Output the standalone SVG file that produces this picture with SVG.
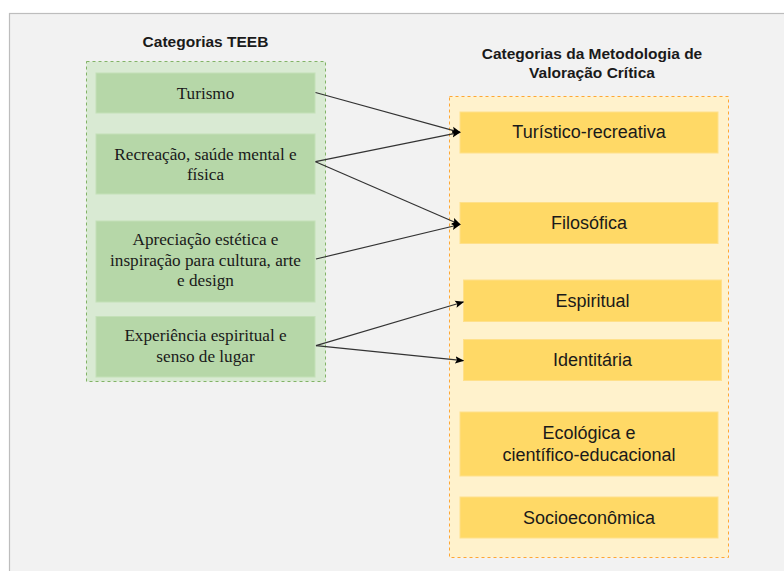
<svg xmlns="http://www.w3.org/2000/svg" width="784" height="571" viewBox="0 0 784 571">
<defs>
<style>
.title{font-family:"Liberation Sans",Arial,sans-serif;font-weight:bold;font-size:15.5px;fill:#1a1a1a;text-anchor:middle}
.gtxt{font-family:"Liberation Serif","Times New Roman",serif;font-size:17.2px;fill:#1a1a1a;text-anchor:middle}
.ytxt{font-family:"Liberation Sans",Arial,sans-serif;font-size:18px;fill:#1a1a1a;text-anchor:middle}
.gbox{fill:#b6d7a8;stroke:#c4e0b8;stroke-width:1}
.ybox{fill:#ffd966;stroke:#ffe08a;stroke-width:1}
.conn{stroke:#333333;stroke-width:1.2;fill:none;marker-end:url(#arr)}
</style>
<marker id="arr" viewBox="0 0 10 10" refX="9" refY="5" markerWidth="9" markerHeight="9" markerUnits="userSpaceOnUse" orient="auto">
<path d="M0,1 L10,5 L0,9 L2,5 Z" fill="#000"/>
</marker>
</defs>
<rect x="0" y="0" width="784" height="571" fill="#ffffff"/>
<rect x="9.5" y="13.5" width="780" height="565" fill="#f2f2f2" stroke="#bdbdbd" stroke-width="1.2"/>

<g id="teeb-container">
<rect x="86.5" y="61.5" width="239" height="320" fill="#d9ead3" stroke="#82b366" stroke-dasharray="3,3" stroke-width="1"/>
<text class="title" x="205.5" y="47">Categorias TEEB</text>
</g>

<g id="mvc-container">
<rect x="449.5" y="96.5" width="279" height="461" fill="#fff2cc" stroke="#ffa733" stroke-dasharray="3,3" stroke-width="1"/>
<text class="title" x="592" y="59">Categorias da Metodologia de</text>
<text class="title" x="592" y="77.5">Valoração Crítica</text>
</g>

<g id="turismo">
<rect class="gbox" x="96" y="73" width="219" height="40"/>
<text class="gtxt" x="205.5" y="99">Turismo</text>
</g>
<g id="recreacao">
<rect class="gbox" x="96" y="134" width="219" height="60"/>
<text class="gtxt" x="205.5" y="159.5">Recreação, saúde mental e</text>
<text class="gtxt" x="205.5" y="179.5">física</text>
</g>
<g id="apreciacao">
<rect class="gbox" x="96" y="221" width="219" height="81"/>
<text class="gtxt" x="205.5" y="245">Apreciação estética e</text>
<text class="gtxt" x="205.5" y="265.5">inspiração para cultura, arte</text>
<text class="gtxt" x="205.5" y="286">e design</text>
</g>
<g id="experiencia">
<rect class="gbox" x="96" y="316.5" width="219" height="60.5"/>
<text class="gtxt" x="205.5" y="340.5">Experiência espiritual e</text>
<text class="gtxt" x="205.5" y="361.5">senso de lugar</text>
</g>

<g id="turistico">
<rect class="ybox" x="460" y="112" width="258" height="41"/>
<text class="ytxt" x="589" y="138">Turístico-recreativa</text>
</g>
<g id="filosofica">
<rect class="ybox" x="460" y="202.5" width="258" height="41"/>
<text class="ytxt" x="589" y="229">Filosófica</text>
</g>
<g id="espiritual">
<rect class="ybox" x="463.5" y="280" width="258" height="41.5"/>
<text class="ytxt" x="592.5" y="306.5">Espiritual</text>
</g>
<g id="identitaria">
<rect class="ybox" x="463.5" y="339.5" width="258" height="41"/>
<text class="ytxt" x="592.5" y="366">Identitária</text>
</g>
<g id="ecologica">
<rect class="ybox" x="460" y="412" width="258" height="64"/>
<text class="ytxt" x="589" y="438.5">Ecológica e</text>
<text class="ytxt" x="589" y="460.5">científico-educacional</text>
</g>
<g id="socioeconomica">
<rect class="ybox" x="460" y="497" width="258" height="41"/>
<text class="ytxt" x="589" y="523.5">Socioeconômica</text>
</g>

<g id="connectors">
<line class="conn" x1="315.5" y1="92.5" x2="460" y2="132.3"/>
<line class="conn" x1="315.5" y1="161.7" x2="460" y2="132.3"/>
<line class="conn" x1="315.5" y1="161.7" x2="460" y2="224.5"/>
<line class="conn" x1="316" y1="259" x2="460" y2="224.5"/>
<line class="conn" x1="316" y1="345.7" x2="463.3" y2="302"/>
<line class="conn" x1="316" y1="345.7" x2="463.3" y2="360.7"/>
</g>
</svg>
